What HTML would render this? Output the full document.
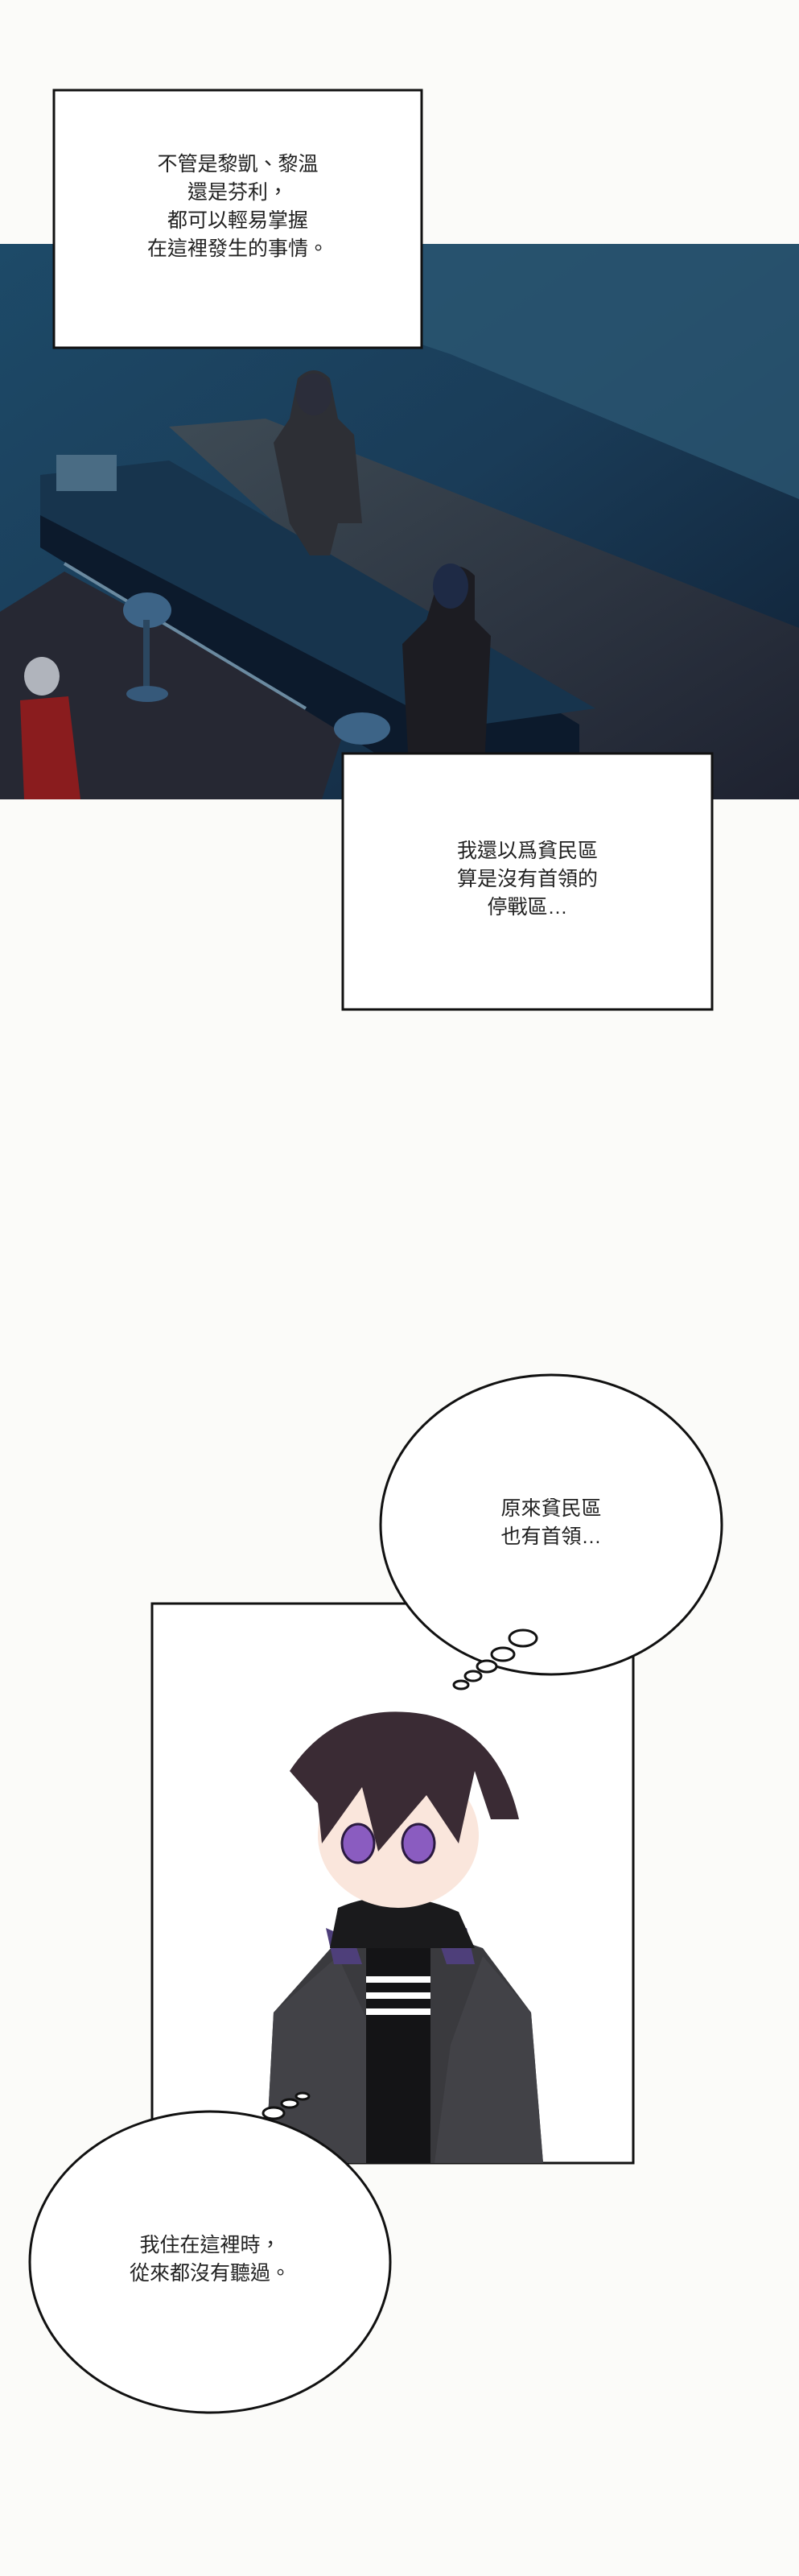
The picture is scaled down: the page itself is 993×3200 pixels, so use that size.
<!DOCTYPE html>
<html><head><meta charset="utf-8"><style>
html,body{margin:0;padding:0;background:#fbfbf9;}
body{width:993px;height:3200px;position:relative;overflow:hidden;font-family:"Liberation Sans","Noto Sans CJK TC",sans-serif;}
.t{position:absolute;text-align:center;font-size:25px;line-height:35px;color:#222;font-family:"Liberation Sans","Noto Sans CJK TC",sans-serif;}
</style></head><body>
<svg width="993" height="3200" style="position:absolute;left:0;top:0">
<defs>
<linearGradient id="bg" x1="0" y1="0" x2="1" y2="1"><stop offset="0" stop-color="#1d4a68"/><stop offset="0.5" stop-color="#1a3c58"/><stop offset="1" stop-color="#0f1f33"/></linearGradient>
<linearGradient id="fl" x1="0" y1="0" x2="1" y2="1"><stop offset="0" stop-color="#3e4b55"/><stop offset="1" stop-color="#1e2230"/></linearGradient>
</defs>
<rect x="0" y="303" width="993" height="690" fill="url(#bg)"/>
<polygon points="470,303 993,303 993,620 560,440 470,410" fill="#2b5672" opacity="0.8"/>
<polygon points="210,530 330,520 993,780 993,993 720,993" fill="url(#fl)"/>
<polygon points="0,760 80,710 430,900 400,993 0,993" fill="#262833"/>
<polygon points="50,610 210,590 720,900 720,993 560,993 50,680" fill="#0c1a2c"/>
<polygon points="50,590 210,572 740,880 560,905 50,640" fill="#17344d"/>
<rect x="70" y="565" width="75" height="45" fill="#4a6c84"/>
<line x1="80" y1="700" x2="380" y2="880" stroke="#6b8aa0" stroke-width="4"/>
<ellipse cx="183" cy="758" rx="30" ry="22" fill="#3d6487"/><rect x="178" y="770" width="8" height="90" fill="#2b4760"/><ellipse cx="183" cy="862" rx="26" ry="10" fill="#36597a"/>
<ellipse cx="450" cy="905" rx="35" ry="20" fill="#3d6487"/>
<path d="M370 470 Q390 450 410 470 L420 520 L440 540 L450 650 L420 650 L410 690 L385 690 L360 650 L340 550 L360 520 Z" fill="#2d2f35"/>
<ellipse cx="390" cy="490" rx="22" ry="26" fill="#2b2d3a"/>
<path d="M545 720 Q565 690 590 715 L590 770 L610 790 L600 993 L510 993 L500 800 L530 770 Z" fill="#1c1c22"/>
<ellipse cx="560" cy="728" rx="22" ry="28" fill="#1e2a45"/>
<ellipse cx="52" cy="840" rx="22" ry="24" fill="#b0b4bc"/>
<path d="M25 870 L85 865 L100 993 L30 993 Z" fill="#8a1c1e"/>
<rect x="189" y="1992" width="598" height="695" fill="#fff" stroke="#111" stroke-width="3"/>
<path d="M330 2687 L340 2500 L420 2410 L470 2400 L540 2400 L600 2420 L660 2500 L675 2687 Z" fill="#3a3a3e"/>
<path d="M330 2687 L340 2500 L420 2430 L470 2540 L480 2687 Z" fill="#424247"/>
<path d="M540 2687 L560 2540 L600 2430 L660 2500 L675 2687 Z" fill="#424247"/>
<rect x="455" y="2420" width="80" height="267" fill="#141416"/>
<rect x="455" y="2455" width="80" height="8" fill="#fff"/><rect x="455" y="2475" width="80" height="8" fill="#fff"/><rect x="455" y="2495" width="80" height="8" fill="#fff"/>
<polygon points="405,2395 440,2410 450,2440 415,2440" fill="#4e3f7a"/>
<polygon points="545,2410 580,2395 590,2440 555,2440" fill="#4e3f7a"/>
<path d="M420 2370 Q490 2340 570 2375 L590 2420 L410 2420 Z" fill="#1a1a1c"/>
<ellipse cx="495" cy="2280" rx="100" ry="90" fill="#fae6dc"/>
<path d="M360 2200 Q420 2110 530 2130 Q620 2150 645 2260 L610 2260 L590 2200 L570 2290 L530 2230 L470 2300 L450 2220 L400 2290 L395 2240 Z" fill="#3a2b34"/>
<ellipse cx="445" cy="2290" rx="20" ry="24" fill="#8a5cc0" stroke="#2a1a40" stroke-width="3"/>
<ellipse cx="520" cy="2290" rx="20" ry="24" fill="#8a5cc0" stroke="#2a1a40" stroke-width="3"/>
<rect x="67" y="112" width="457" height="320" fill="#fff" stroke="#111" stroke-width="3"/>
<rect x="426" y="936" width="459" height="318" fill="#fff" stroke="#111" stroke-width="3"/>
<ellipse cx="685" cy="1894" rx="212" ry="186" fill="#fff" stroke="#111" stroke-width="3"/>
<ellipse cx="650" cy="2035" rx="17" ry="10" fill="#fff" stroke="#111" stroke-width="3"/>
<ellipse cx="625" cy="2055" rx="14" ry="8" fill="#fff" stroke="#111" stroke-width="3"/>
<ellipse cx="605" cy="2070" rx="12" ry="7" fill="#fff" stroke="#111" stroke-width="3"/>
<ellipse cx="588" cy="2082" rx="10" ry="6" fill="#fff" stroke="#111" stroke-width="3"/>
<ellipse cx="573" cy="2093" rx="9" ry="5" fill="#fff" stroke="#111" stroke-width="3"/>
<ellipse cx="261" cy="2810" rx="224" ry="187" fill="#fff" stroke="#111" stroke-width="3"/>
<ellipse cx="340" cy="2625" rx="13" ry="7" fill="#fff" stroke="#111" stroke-width="3"/>
<ellipse cx="360" cy="2613" rx="10" ry="5" fill="#fff" stroke="#111" stroke-width="3"/>
<ellipse cx="376" cy="2604" rx="8" ry="4" fill="#fff" stroke="#111" stroke-width="3"/>
</svg>
<div class="t" style="left:67px;top:187px;width:457px;">不管是黎凱、黎溫<br>還是芬利，<br>都可以輕易掌握<br>在這裡發生的事情。</div>
<div class="t" style="left:426px;top:1040px;width:459px;">我還以爲貧民區<br>算是沒有首領的<br>停戰區…</div>
<div class="t" style="left:473px;top:1857px;width:424px;">原來貧民區<br>也有首領…</div>
<div class="t" style="left:37px;top:2772px;width:448px;">我住在這裡時，<br>從來都沒有聽過。</div>
</body></html>
